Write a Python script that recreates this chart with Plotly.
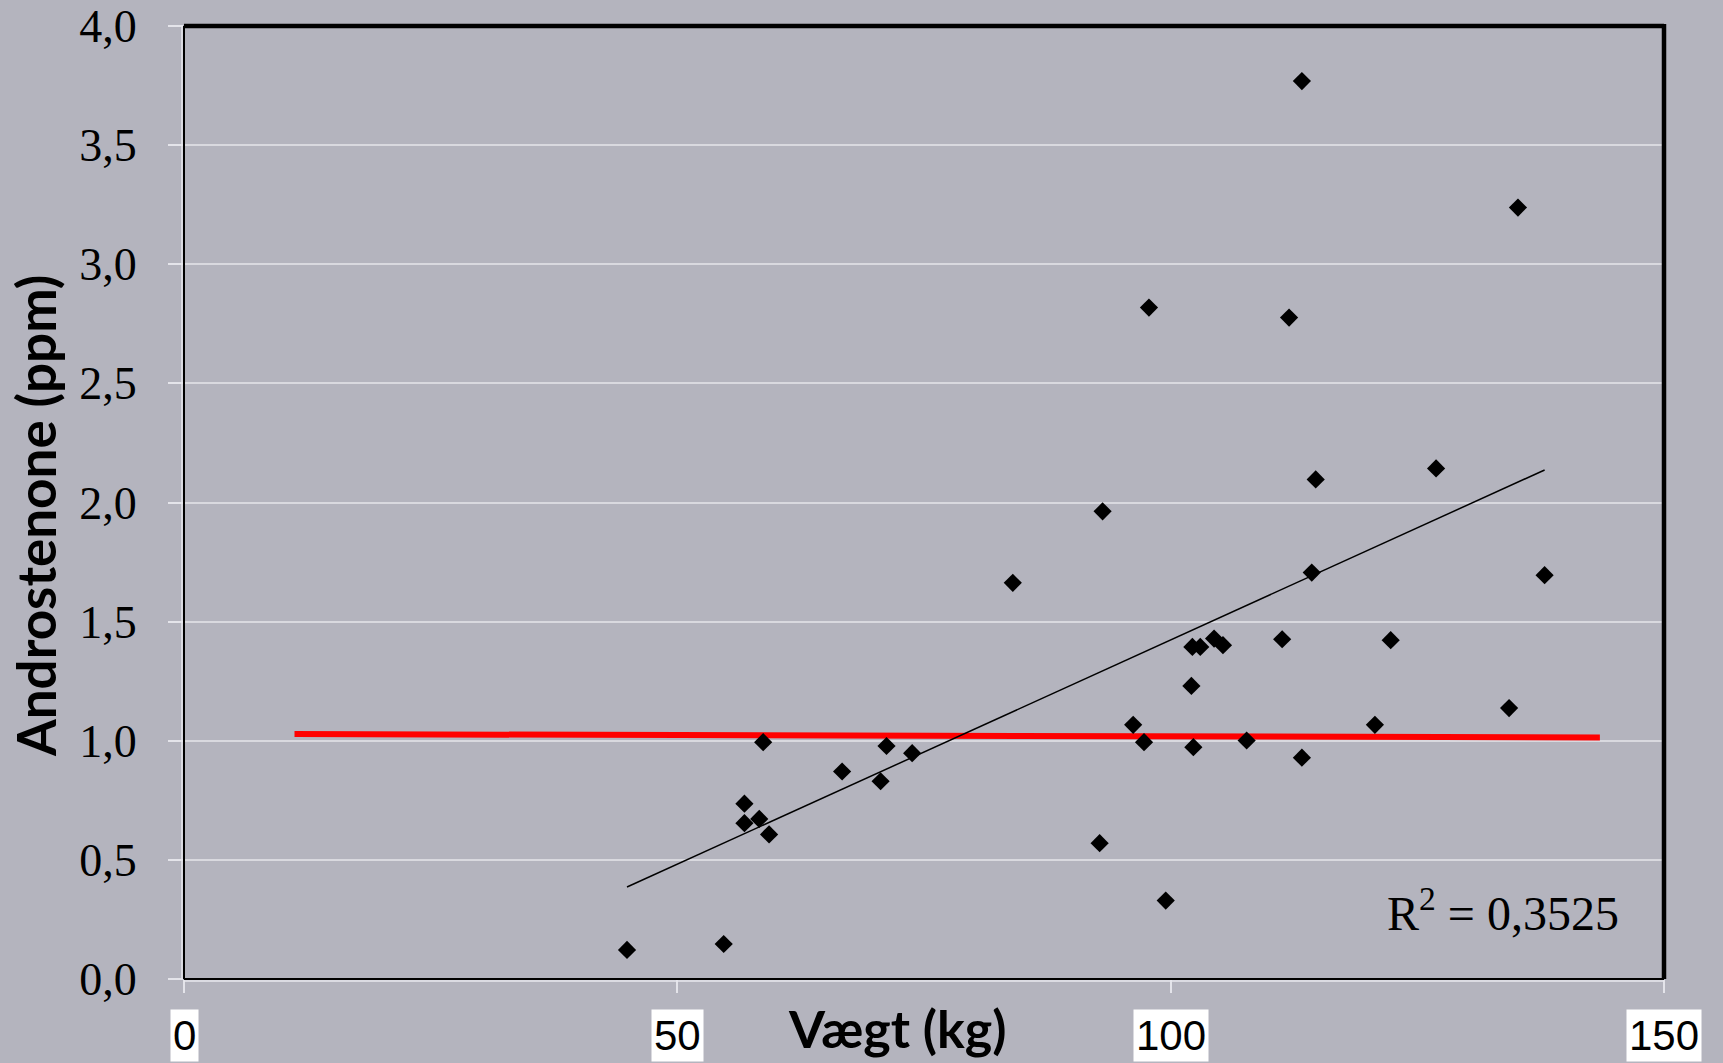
import numpy as np
import plotly.graph_objects as go

# ---- data ----
weight_kg = [44.9, 54.7, 56.8, 56.8, 58.3, 58.7, 59.3, 66.7, 70.6, 71.2, 73.8,
             84.0, 92.8, 93.1, 96.2, 97.3, 97.8, 99.5, 102.1, 102.2, 103.0,
             102.3, 104.4, 105.3, 107.7, 111.3, 112.0, 113.3, 113.3, 114.3,
             114.7, 120.7, 122.3, 126.9, 134.3, 135.2, 137.9]
androstenone_ppm = [0.122, 0.147, 0.736, 0.654, 0.672, 0.994, 0.607, 0.871,
                    0.830, 0.978, 0.948, 1.663, 0.570, 1.963, 1.067, 0.994,
                    2.818, 0.329, 1.230, 1.394, 1.394, 0.973, 1.429, 1.401,
                    1.001, 1.426, 2.776, 3.769, 0.929, 1.706, 2.097, 1.067,
                    1.422, 2.143, 1.137, 3.238, 1.695]

threshold_x = [11.2, 143.5]
threshold_y = [1.028, 1.014]

x_tick_vals = [0, 50, 100, 150]
x_tick_text = ["0", "50", "100", "150"]
y_tick_vals = [0, 0.5, 1.0, 1.5, 2.0, 2.5, 3.0, 3.5, 4.0]

r2_text = "R<sup>2</sup> = 0,3525"
x_title = "Vægt (kg)"
y_title = "Androstenone (ppm)"

# ---- trend line (linear fit of the data) ----
xs = np.array(weight_kg)
ys = np.array(androstenone_ppm)
slope, intercept = np.polyfit(xs, ys, 1)
trend_x = [xs.min(), xs.max()]
trend_y = [slope * v + intercept for v in trend_x]

BG = "#B4B4BE"
GRID = "#D9D9DF"
W, H = 1723, 1063
ML, MR, MT, MB = 184, 59, 26, 84

fig = go.Figure()
fig.add_trace(go.Scatter(x=threshold_x, y=threshold_y, mode="lines",
                         line=dict(color="#FF0000", width=6),
                         hoverinfo="skip", showlegend=False))
fig.add_trace(go.Scatter(x=trend_x, y=trend_y, mode="lines",
                         line=dict(color="black", width=1.5),
                         hoverinfo="skip", showlegend=False))
fig.add_trace(go.Scatter(x=weight_kg, y=androstenone_ppm, mode="markers",
                         marker=dict(symbol="diamond", size=14, color="black"),
                         showlegend=False))

fig.update_layout(
    width=W, height=H, autosize=False,
    margin=dict(l=ML, r=MR, t=MT, b=MB, pad=0, autoexpand=False),
    paper_bgcolor=BG, plot_bgcolor=BG,
    separators=",.",
    showlegend=False,
)
fig.update_xaxes(range=[0, 150], tickvals=x_tick_vals, showticklabels=False,
                 showgrid=False, zeroline=False, showline=False, automargin=False,
                 ticks="outside", ticklen=13, tickwidth=1.5, tickcolor="#E4E4EA")
fig.update_yaxes(range=[0, 4], tickvals=y_tick_vals, tickformat=".1f",
                 showgrid=True, gridcolor=GRID, gridwidth=1.5,
                 zeroline=False, showline=False, automargin=False,
                 ticks="outside", ticklen=15, tickwidth=1.5, tickcolor="#E4E4EA",
                 ticklabelstandoff=22,
                 tickfont=dict(family="Liberation Serif", size=46, color="black"))

# frame
pw = 1.0 / (W - ML - MR)
ph = 1.0 / (H - MT - MB)
frame = [
    dict(x0=0 - 2 * pw, x1=0 - 2 * pw, y0=0, y1=1, color="#E8E8EE", width=1.5),
    dict(x0=0, x1=1, y0=0 - 2 * ph, y1=0 - 2 * ph, color="#E8E8EE", width=1.5),
    dict(x0=0, x1=0, y0=0, y1=1, color="black", width=2),
    dict(x0=0, x1=1, y0=0, y1=0, color="black", width=2),
    dict(x0=0, x1=1, y0=1, y1=1, color="black", width=4.5),
    dict(x0=1, x1=1, y0=0, y1=1 + 2 * ph, color="black", width=4.5),
]
for f in frame:
    fig.add_shape(type="line", xref="paper", yref="paper",
                  x0=f["x0"], x1=f["x1"], y0=f["y0"], y1=f["y1"],
                  line=dict(color=f["color"], width=f["width"]), layer="above")

# x tick labels in white boxes
for v, t in zip(x_tick_vals, x_tick_text):
    fig.add_annotation(x=v, xref="x", y=-0.0588, yref="paper",
                       text=t, showarrow=False, xanchor="center", yanchor="middle",
                       bgcolor="white", borderpad=2,
                       font=dict(family="Liberation Sans", size=42, color="black"))

# axis titles
fig.add_annotation(x=0.4818, y=-0.0514, xref="paper", yref="paper",
                   text=x_title, showarrow=False, xanchor="center", yanchor="middle",
                   font=dict(family="Lato", size=52, color="black", weight="bold"))
fig.add_annotation(x=-0.1003, y=0.4853, xref="paper", yref="paper",
                   text=y_title, showarrow=False, textangle=-90,
                   xanchor="center", yanchor="middle",
                   font=dict(family="Lato", size=53, color="black", weight="bold"))

# R^2 label
fig.add_annotation(x=0.971, y=0.0724, xref="paper", yref="paper",
                   text=r2_text, showarrow=False, xanchor="right", yanchor="middle",
                   font=dict(family="Liberation Serif", size=48, color="black"))

fig.write_html("out.html", config={"displayModeBar": False},
               post_script="document.body.style.margin='0';document.body.style.overflow='hidden';")
